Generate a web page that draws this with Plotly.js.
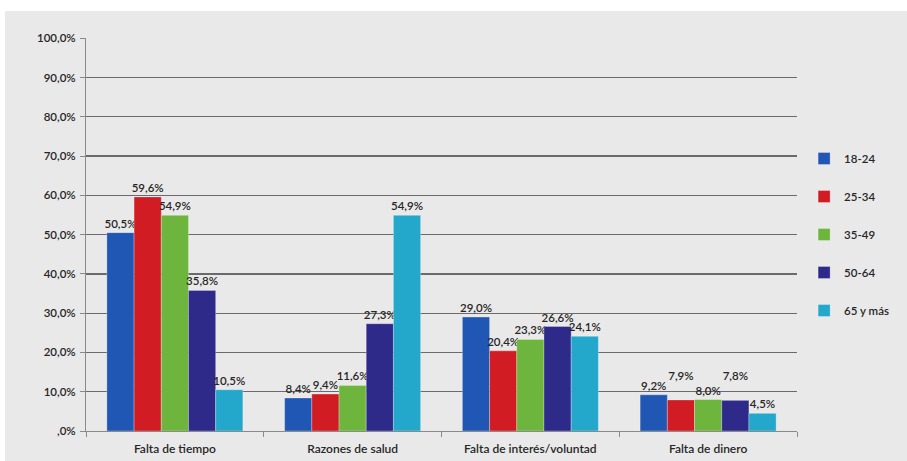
<!DOCTYPE html>
<html>
<head>
<meta charset="utf-8">
<script src="https://cdn.plot.ly/plotly-3.0.1.min.js"></script>
<style>
  html, body { margin: 0; padding: 0; background: #ffffff; }
  #chart { position: absolute; left: 5px; top: 11px; width: 902px; height: 450px; }
</style>
</head>
<body>
<div id="chart"></div>
<script>
// Categories (x axis)
const categories = ["Falta de tiempo", "Razones de salud", "Falta de interés/voluntad", "Falta de dinero"];

// Series (age groups)
const seriesNames = ["18-24", "25-34", "35-49", "50-64", "65 y más"];
const v18_24   = [50.5, 8.4, 29.0, 9.2];
const v25_34   = [59.6, 9.4, 20.4, 7.9];
const v35_49   = [54.9, 11.6, 23.3, 8.0];
const v50_64   = [35.8, 27.3, 26.6, 7.8];
const v65_mas  = [10.5, 54.9, 24.1, 4.5];

// Y axis ticks
const yTickVals = [0, 10, 20, 30, 40, 50, 60, 70, 80, 90, 100];
const yTickText = [",0%", "10,0%", "20,0%", "30,0%", "40,0%", "50,0%", "60,0%", "70,0%", "80,0%", "90,0%", "100,0%"];

// styling
const colors = ["#2157b4", "#d21c24", "#6db53c", "#2d2a8a", "#23a8cb"];
// labels that the original lifts higher (series index, category index)
const liftedLabels = [[1, 3], [3, 3]];

const allValues = [v18_24, v25_34, v35_49, v50_64, v65_mas];
const fmt = v => v.toFixed(1).replace(".", ",") + "%";

const traces = allValues.map((vals, si) => {
  const text = vals.map((v, ci) => {
    let t = fmt(v);
    const lifted = liftedLabels.some(l => l[0] === si && l[1] === ci);
    if (lifted) t += "<br>&nbsp;";
    return t;
  });
  return {
    type: "bar",
    name: seriesNames[si],
    x: categories,
    y: vals,
    text: text,
    textposition: "outside",
    constraintext: "none",
    cliponaxis: false,
    textfont: { family: "Lato, 'Open Sans', sans-serif", size: 11.5, color: "#262626", weight: 600 },
    marker: { color: colors[si], line: { color: "rgba(255,255,255,0.35)", width: 0.8 } },
    legendgroup: "g" + si,
    hoverinfo: "x+y+name"
  };
});

const layout = {
  width: 902,
  height: 450,
  paper_bgcolor: "#e9e9e9",
  plot_bgcolor: "#e9e9e9",
  margin: { l: 81, r: 110, t: 27, b: 30 },
  barmode: "group",
  bargap: 0.235,
  bargroupgap: 0,
  font: { family: "Lato, 'Open Sans', sans-serif", size: 12, color: "#262626", weight: 600 },
  showlegend: true,
  legend: {
    x: 1.01, xanchor: "left",
    y: 0.5, yanchor: "middle",
    bgcolor: "rgba(0,0,0,0)",
    font: { size: 11.5, color: "#262626", weight: 600 },
    tracegroupgap: 19,
    itemwidth: 30
  },
  xaxis: {
    type: "category",
    showgrid: false,
    showline: true,
    linecolor: "#8a8a8a",
    linewidth: 1,
    ticks: "outside",
    tickson: "boundaries",
    ticklen: 5,
    tickcolor: "#8a8a8a",
    ticklabelstandoff: 7,
    tickfont: { size: 12, color: "#262626", weight: 600 },
    fixedrange: true
  },
  yaxis: {
    range: [0, 100.05],
    tickvals: yTickVals,
    ticktext: yTickText,
    showgrid: true,
    gridcolor: "#6a6a6a",
    gridwidth: 1.3,
    showline: true,
    linecolor: "#8a8a8a",
    linewidth: 1,
    ticks: "outside",
    ticklen: 5,
    tickcolor: "#8a8a8a",
    ticklabelstandoff: 2,
    tickfont: { size: 11.5, color: "#262626", weight: 600 },
    zeroline: false,
    fixedrange: true
  }
};

Plotly.newPlot("chart", traces, layout, { displayModeBar: false, staticPlot: true });
</script>
</body>
</html>
